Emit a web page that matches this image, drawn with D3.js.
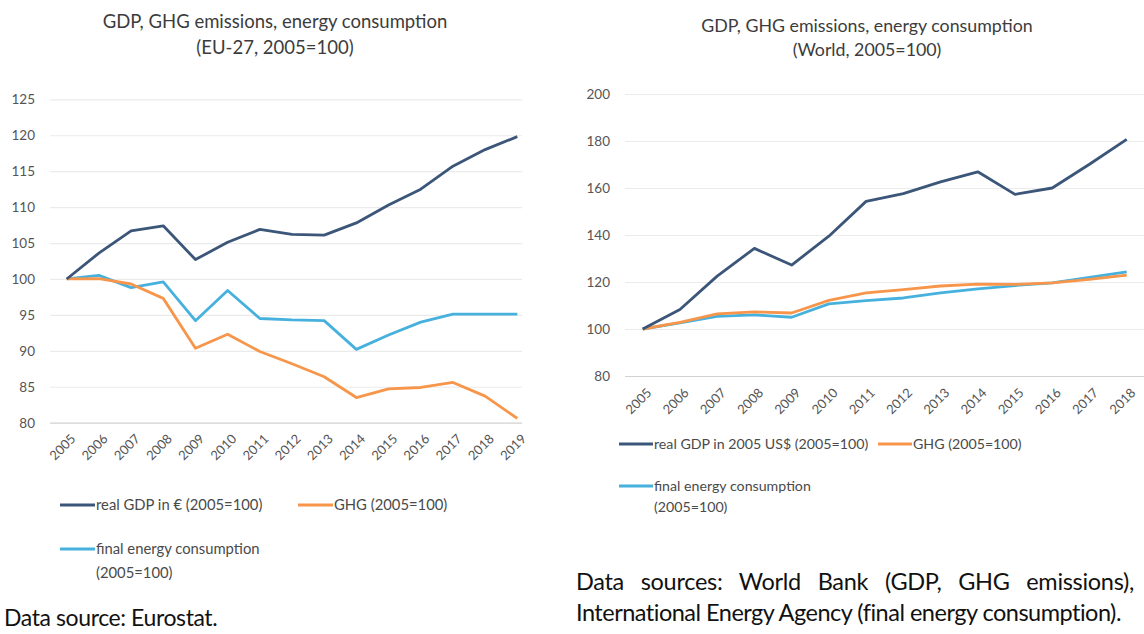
<!DOCTYPE html>
<html>
<head>
<meta charset="utf-8">
<script src="https://cdn.jsdelivr.net/npm/d3@7"></script>
<style>
  html, body { margin: 0; padding: 0; background: #fff; }
  svg { display: block; }
  text { font-family: Lato, "Noto Sans", sans-serif; }
</style>
</head>
<body>
<svg id="chart" width="1144" height="634"></svg>
<script>
// ---------- data ----------
const euYears = [2005,2006,2007,2008,2009,2010,2011,2012,2013,2014,2015,2016,2017,2018,2019];
const euGDP    = [100,103.6,106.7,107.4,102.7,105.1,106.9,106.2,106.1,107.8,110.3,112.5,115.7,118.0,119.8];
const euGHG    = [100,100.05,99.3,97.3,90.35,92.3,89.9,88.2,86.4,83.5,84.7,84.9,85.6,83.7,80.6];
const euEnergy = [100,100.5,98.8,99.6,94.2,98.4,94.5,94.3,94.2,90.2,92.2,94.0,95.1,95.1,95.1];
const euTicks  = [80,85,90,95,100,105,110,115,120,125];

const wYears  = [2005,2006,2007,2008,2009,2010,2011,2012,2013,2014,2015,2016,2017,2018];
const wGDP    = [100,108.3,122.5,134.3,127.2,139.5,154.3,157.6,162.6,166.9,157.3,160.0,170.1,180.7];
const wGHG    = [100,102.8,106.4,107.3,106.8,112.2,115.4,116.8,118.3,119.1,119.0,119.6,121.1,122.9];
const wEnergy = [100,102.6,105.4,106.0,105.0,110.7,112.1,113.2,115.4,117.1,118.5,119.6,122.0,124.3];
const wTicks  = [80,100,120,140,160,180,200];

const euLegend = ["real GDP in € (2005=100)", "GHG (2005=100)", ["final energy consumption", "(2005=100)"]];
const wLegend  = ["real GDP in 2005 US$ (2005=100)", "GHG (2005=100)", ["final energy consumption", "(2005=100)"]];

const COL_GDP = "#3b5678", COL_GHG = "#f7964b", COL_EN = "#47b1de";
const svg = d3.select("#chart");

function panel(cfg) {
  const g = svg.append("g");
  const x = d3.scalePoint().domain(cfg.years).range(cfg.xr);
  const y = d3.scaleLinear().domain(cfg.yd).range(cfg.yr);

  // title
  const t = g.append("text").attr("x", cfg.titleX).attr("text-anchor", "middle")
    .attr("fill", "#3c3c3c").style("font-size", cfg.titleSize + "px");
  t.append("tspan").attr("x", cfg.titleX).attr("y", cfg.titleY[0]).text(cfg.title[0]);
  t.append("tspan").attr("x", cfg.titleX).attr("y", cfg.titleY[1]).text(cfg.title[1]);

  // grid + y labels
  const ya = d3.axisLeft(y).tickValues(cfg.ticks).tickSize(-(cfg.gridX[1] - cfg.gridX[0])).tickPadding(cfg.ypad);
  const yg = g.append("g").attr("transform", `translate(${cfg.gridX[0]},0)`).call(ya);
  yg.select(".domain").remove();
  yg.selectAll(".tick line").attr("stroke", d => d === cfg.yd[0] ? "#d2d2d2" : "#ebebeb").attr("stroke-width", 1.2);
  yg.selectAll(".tick text").attr("fill", "#555").style("font-size", "13.5px").style("font-family", "Lato, sans-serif");

  // x labels
  const xa = d3.axisBottom(x).tickSize(0).tickPadding(0);
  const xg = g.append("g").attr("transform", `translate(0,${cfg.xLabY})`).call(xa);
  xg.select(".domain").remove();
  xg.selectAll(".tick text")
    .attr("fill", "#555").style("font-size", "13px").style("font-family", "Lato, sans-serif")
    .attr("text-anchor", "end").attr("dy", "0.7em").attr("dx", "0.3em")
    .attr("transform", "rotate(-45)");

  // lines
  const line = d3.line().x((d, i) => x(cfg.years[i])).y(d => y(d));
  [[cfg.energy, COL_EN], [cfg.ghg, COL_GHG], [cfg.gdp, COL_GDP]].forEach(([vals, c]) => {
    g.append("path").datum(vals).attr("d", line).attr("fill", "none")
      .attr("stroke", c).attr("stroke-width", 2.8).attr("stroke-linejoin", "round");
  });

  // legend
  const L = cfg.leg;
  const items = [
    {c: COL_GDP, x: L.x1, y: L.y1, t: [cfg.legend[0]]},
    {c: COL_GHG, x: L.x2, y: L.y1, t: [cfg.legend[1]]},
    {c: COL_EN,  x: L.x1, y: L.y2, t: cfg.legend[2]}
  ];
  items.forEach(it => {
    g.append("line").attr("x1", it.x).attr("x2", it.x + L.sw).attr("y1", it.y).attr("y2", it.y)
      .attr("stroke", it.c).attr("stroke-width", 2.8);
    const tx = g.append("text").attr("fill", "#4a4a4a").style("font-size", L.fs + "px");
    it.t.forEach((s, k) => tx.append("tspan").attr("x", it.x + L.sw + 1).attr("y", it.y + 5 + k * L.lh).text(s));
  });
}

panel({
  years: euYears, gdp: euGDP, ghg: euGHG, energy: euEnergy, ticks: euTicks,
  xr: [66.7, 517.3], yd: [80, 125], yr: [422.7, 99.3], gridX: [50, 522], ypad: 15,
  xLabY: 436, title: ["GDP, GHG emissions, energy consumption", "(EU-27, 2005=100)"],
  titleX: 275, titleY: [28, 54], titleSize: 18.5,
  legend: euLegend, leg: {x1: 60, x2: 298, y1: 505, y2: 549, sw: 35, fs: 14.8, lh: 24}
});

panel({
  years: wYears, gdp: wGDP, ghg: wGHG, energy: wEnergy, ticks: wTicks,
  xr: [642.7, 1126.7], yd: [80, 200], yr: [376, 94], gridX: [625, 1170], ypad: 15,
  xLabY: 390, title: ["GDP, GHG emissions, energy consumption", "(World, 2005=100)"],
  titleX: 867, titleY: [32, 56], titleSize: 17.8,
  legend: wLegend, leg: {x1: 619, x2: 878, y1: 444, y2: 486, sw: 34, fs: 14.2, lh: 21}
});

// sources
svg.append("text").attr("x", 4).attr("y", 626).attr("fill", "#111")
  .style("font-size", "23px").style("letter-spacing", "-0.4px").text("Data source: Eurostat.");
svg.append("text").attr("x", 576).attr("y", 590).attr("fill", "#111")
  .style("font-size", "23.5px").style("letter-spacing", "-0.3px").style("word-spacing", "11px")
  .text("Data sources: World Bank (GDP, GHG emissions),");
svg.append("text").attr("x", 576).attr("y", 621).attr("fill", "#111")
  .style("font-size", "23.5px").style("letter-spacing", "-0.5px")
  .text("International Energy Agency (final energy consumption).");
</script>
</body>
</html>
